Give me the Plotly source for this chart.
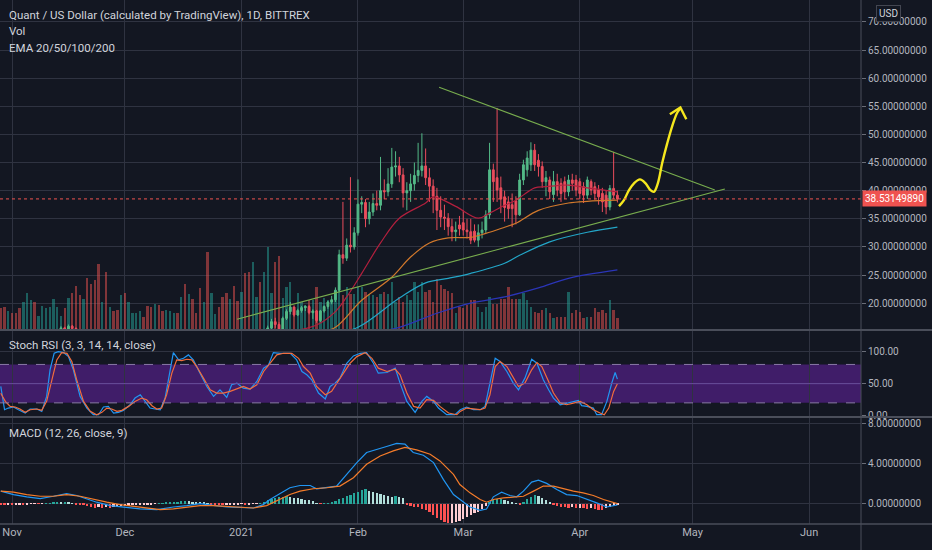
import pandas as pd
import plotly.graph_objects as go

# ---------------- DATA ----------------
start_date = "2020-10-29"
n_days = 165
dates = pd.date_range(start_date, periods=n_days, freq="D")

opens = [
    # Oct 29 - Dec 31
    11.1, 10.8, 10.5, 10.7, 10.6, 10.3, 10.1, 10.5, 11.2, 11.8, 11.3, 11.5, 11.9, 12.2, 12.6, 13.3, 14.6, 15.6, 15.4, 15.9,
    15.5, 14.3, 13.6, 14.0, 13.2, 12.6, 12.3, 11.4, 11.8, 10.6, 10.9, 10.8, 10.7, 11.3, 10.9, 11.2, 11.4, 11.5, 11.7, 11.6,
    11.3, 10.9, 11.2, 10.9, 10.6, 10.8, 11.0, 11.1, 11.0, 11.6, 11.2, 11.5, 11.3, 11.1, 10.5, 10.9, 9.8, 10.3, 10.5, 10.3,
    10.0, 9.8, 10.3, 10.0,
    # Jan
    9.9, 11.0, 10.6, 10.3, 11.8, 12.4, 12.1, 13.8, 15.6, 16.7, 16.2, 15.4, 17.3, 18.5, 19.3, 17.9, 18.7, 19.2, 19.4, 18.3,
    18.6, 16.9, 18.6, 19.4, 20.2, 20.6, 22.3, 28.6, 28.0, 30.3, 30.0,
    # Feb
    32.5, 37.6, 37.9, 35.0, 36.2, 37.7, 37.4, 40.0, 39.8, 41.2, 44.2, 44.4, 42.8, 39.6, 40.0, 41.2, 42.7, 43.6, 44.4, 42.3,
    40.8, 39.0, 36.5, 35.3, 35.1, 33.6, 32.7, 33.9,
    # Mar
    34.3, 33.0, 32.7, 32.8, 31.2, 32.5, 33.0, 35.7, 43.7, 42.3, 40.5, 38.9, 38.0, 37.5, 38.2, 35.7, 41.9, 43.7, 44.6, 47.2,
    45.4, 44.3, 41.6, 41.9, 39.3, 41.6, 41.3, 41.6, 39.8, 41.9, 41.9,
    # Apr
    41.6, 40.7, 39.2, 41.6, 40.7, 40.1, 39.5, 39.2, 37.1, 40.4, 39.2,
]
highs = [
    11.4, 11.0, 10.9, 10.9, 10.8, 10.5, 10.7, 11.4, 12.0, 12.0, 11.7, 12.1, 12.4, 12.8, 13.5, 14.8, 15.9, 15.8, 16.2, 16.1,
    15.7, 14.6, 14.3, 14.2, 13.4, 12.9, 12.5, 12.0, 11.9, 11.1, 11.1, 11.0, 11.5, 11.6, 11.4, 11.6, 11.7, 11.9, 11.8, 11.8,
    11.4, 11.4, 11.3, 11.0, 11.0, 11.1, 11.3, 11.2, 11.8, 11.9, 11.7, 11.6, 11.4, 11.2, 11.1, 11.0, 10.5, 10.7, 10.6, 10.6,
    10.2, 10.5, 10.5, 10.3,
    11.2, 11.5, 11.0, 12.2, 12.6, 12.8, 14.2, 16.0, 17.2, 17.4, 16.6, 17.6, 18.9, 20.2, 19.6, 19.0, 19.5, 19.6, 19.7, 18.9,
    18.8, 18.8, 19.6, 20.4, 21.3, 22.8, 29.5, 38.0, 31.5, 42.4, 33.5,
    42.0, 39.0, 38.5, 38.0, 39.5, 40.0, 46.0, 42.0, 44.0, 47.6, 47.0, 46.0, 44.0, 41.5, 43.0, 45.0, 48.5, 50.2, 47.5, 44.0,
    42.0, 40.5, 39.0, 37.5, 36.0, 35.0, 34.5, 35.5,
    36.5, 35.0, 35.0, 34.0, 34.0, 34.5, 36.5, 48.5, 44.8, 54.7, 42.5, 40.0, 39.0, 39.5, 39.0, 43.0, 45.5, 47.0, 48.6, 48.3,
    46.5, 45.2, 43.5, 42.5, 43.5, 43.0, 42.2, 42.5, 42.8, 43.0, 42.8,
    42.2, 41.5, 42.5, 42.0, 41.5, 41.0, 40.5, 40.0, 41.0, 46.9, 40.0,
]
lows = [
    10.6, 10.3, 10.3, 10.4, 10.1, 9.9, 10.0, 10.4, 11.0, 11.1, 11.2, 11.3, 11.7, 12.0, 12.4, 13.1, 14.4, 15.0, 15.1, 15.2,
    14.0, 13.3, 13.4, 13.0, 12.4, 12.1, 11.0, 11.2, 10.2, 10.4, 10.6, 10.5, 10.6, 10.7, 10.8, 11.0, 11.2, 11.3, 11.4, 11.1,
    10.7, 10.8, 10.7, 10.4, 10.5, 10.7, 10.9, 10.8, 10.9, 11.0, 11.1, 11.1, 11.0, 10.3, 10.4, 9.5, 9.7, 10.2, 10.1, 9.8,
    9.6, 9.7, 9.8, 9.7,
    9.8, 10.4, 10.0, 10.2, 11.5, 11.8, 12.0, 13.5, 15.2, 15.6, 14.6, 15.2, 17.0, 18.0, 17.6, 17.7, 18.3, 18.6, 18.0, 17.2,
    16.5, 16.6, 18.3, 19.0, 19.8, 20.2, 22.0, 27.0, 27.5, 29.0, 29.5,
    32.0, 36.0, 33.5, 34.0, 35.5, 36.5, 36.5, 38.5, 39.0, 40.5, 42.5, 41.5, 37.0, 36.5, 38.0, 40.0, 41.5, 42.5, 41.0, 38.0,
    36.0, 33.0, 33.5, 33.0, 32.0, 31.0, 31.0, 32.0,
    32.0, 31.5, 30.5, 30.8, 30.0, 31.5, 32.5, 35.0, 38.0, 38.0, 36.0, 34.5, 35.0, 33.5, 34.0, 35.5, 41.0, 42.5, 43.5, 43.5,
    42.5, 40.5, 39.0, 38.5, 38.0, 39.0, 38.0, 38.5, 39.0, 40.0, 39.0,
    38.5, 37.8, 38.5, 39.2, 38.4, 37.5, 36.2, 35.8, 36.5, 38.5, 37.9,
]
closes = [
    10.8, 10.5, 10.7, 10.6, 10.3, 10.1, 10.5, 11.2, 11.8, 11.3, 11.5, 11.9, 12.2, 12.6, 13.3, 14.6, 15.6, 15.4, 15.9, 15.5,
    14.3, 13.6, 14.0, 13.2, 12.6, 12.3, 11.4, 11.8, 10.6, 10.9, 10.8, 10.7, 11.3, 10.9, 11.2, 11.4, 11.5, 11.7, 11.6, 11.3,
    10.9, 11.2, 10.9, 10.6, 10.8, 11.0, 11.1, 11.0, 11.6, 11.2, 11.5, 11.3, 11.1, 10.5, 10.9, 9.8, 10.3, 10.5, 10.3, 10.0,
    9.8, 10.3, 10.0, 9.9,
    11.0, 10.6, 10.3, 11.8, 12.4, 12.1, 13.8, 15.6, 16.7, 16.2, 15.4, 17.3, 18.5, 19.3, 17.9, 18.7, 19.2, 19.4, 18.3, 18.6,
    16.9, 18.6, 19.4, 20.2, 20.6, 22.3, 28.6, 28.0, 30.3, 30.0, 32.5,
    37.6, 37.9, 35.0, 36.2, 37.7, 37.4, 40.0, 39.8, 41.2, 44.2, 44.4, 42.8, 39.6, 40.0, 41.2, 42.7, 43.6, 44.4, 42.3, 40.8,
    39.0, 36.5, 35.3, 35.1, 33.6, 32.7, 33.0, 33.2,
    33.0, 32.7, 31.2, 31.2, 32.5, 33.0, 35.7, 43.7, 41.6, 40.1, 38.5, 37.0, 36.8, 36.8, 35.7, 41.9, 44.6, 45.8, 47.2, 44.6,
    44.3, 41.6, 42.3, 39.8, 41.6, 40.1, 39.5, 39.8, 41.9, 41.3, 40.1,
    39.5, 39.2, 41.9, 40.1, 39.5, 38.9, 38.0, 37.1, 40.4, 39.2, 38.53149890,
]
volume = [
    21, 22, 18, 16, 16, 21, 27, 36, 29, 27, 13, 23, 21, 22, 30, 22, 13, 21, 31, 36,
    43, 34, 30, 51, 45, 49, 65, 27, 57, 22, 18, 19, 34, 36, 27, 16, 16, 18, 12, 23,
    22, 25, 24, 18, 19, 18, 16, 16, 32, 45, 35, 30, 16, 41, 27, 77, 36, 15, 22, 32,
    36, 30, 43, 28,
    37, 56, 57, 67, 32, 47, 57, 82, 36, 67, 73, 31, 42, 47, 22, 36, 27, 24, 29, 29,
    42, 27, 31, 29, 27, 37, 44, 34, 42, 35, 35, 42, 42, 37, 35, 34, 32, 35, 37, 35,
    47, 27, 32, 27, 34, 29, 47, 37, 47, 37, 39, 27, 50,
    44, 40, 38, 36, 16, 22, 21, 24, 29, 29, 22, 17, 22, 32, 25, 25, 30, 30, 42, 30,
    30, 30, 36, 29, 22, 17, 16, 19, 21, 16, 11, 12, 12, 12, 37, 16, 19, 17, 11, 12,
    12, 21, 17, 19, 16, 29, 19, 11,
]
last_price = 38.53149890

# EMA readings (sampled dates)
ema20_dates = ["2021-01-16", "2021-01-21", "2021-01-26", "2021-01-29", "2021-02-02", "2021-02-07", "2021-02-12",
               "2021-02-19", "2021-02-21", "2021-02-27", "2021-03-05", "2021-03-08", "2021-03-12", "2021-03-15",
               "2021-03-20", "2021-03-23", "2021-03-29", "2021-04-03", "2021-04-11"]
ema20 = [15.2, 16.1, 18.5, 21.1, 25.3, 30.7, 35.1, 37.8, 38.9, 37.2, 35.1, 36.0, 37.4, 38.3, 40.5, 40.7, 41.0, 40.5, 39.8]
ema50_dates = ["2021-01-22", "2021-01-26", "2021-02-02", "2021-02-10", "2021-02-15", "2021-02-20", "2021-02-25",
               "2021-03-03", "2021-03-07", "2021-03-12", "2021-03-15", "2021-03-21", "2021-03-29", "2021-04-03",
               "2021-04-11"]
ema50 = [14.8, 15.7, 20.5, 24.6, 28.2, 30.7, 31.6, 31.7, 32.4, 33.5, 34.2, 36.5, 37.8, 38.1, 38.3]
ema100_dates = ["2021-01-25", "2021-02-01", "2021-02-12", "2021-02-19", "2021-02-25", "2021-03-03", "2021-03-12",
                "2021-03-16", "2021-03-24", "2021-04-03", "2021-04-11"]
ema100 = [14.5, 15.7, 20.9, 23.6, 24.4, 25.3, 27.1, 28.5, 30.9, 32.6, 33.5]
ema200_dates = ["2021-02-05", "2021-02-12", "2021-02-22", "2021-03-03", "2021-03-12", "2021-03-21", "2021-03-29",
                "2021-04-11"]
ema200 = [14.8, 15.7, 18.2, 20.0, 21.1, 22.7, 24.4, 25.9]

# Drawn trend lines and projection arrow
tl_lower_x = ["2020-12-30 20:00", "2021-05-09 14:00"]
tl_lower_y = [17.15, 40.3]
tl_upper_x = ["2021-02-22 14:00", "2021-05-06 22:00"]
tl_upper_y = [58.4, 40.1]
arrow_x = ["2021-04-11 10:00", "2021-04-12 18:00", "2021-04-14 02:00", "2021-04-15 10:00", "2021-04-17 00:00",
           "2021-04-18 12:00", "2021-04-19 19:00", "2021-04-20 17:00", "2021-04-21 18:00", "2021-04-22 22:00",
           "2021-04-24 06:00", "2021-04-25 13:00", "2021-04-26 21:00", "2021-04-27 18:00"]
arrow_y = [37.26, 38.33, 40.1, 41.3, 42.0, 41.3, 40.1, 39.8, 41.3, 44.9, 48.4, 51.4, 53.8, 54.6]
arrowhead_x = ["2021-04-24 23:00", "2021-04-27 18:00", "2021-04-29 08:00"]
arrowhead_y = [53.6, 54.8, 52.7]

# Stoch RSI readings (day offset from start_date, value)
stoch_k_day = [0, 1, 2, 3.4, 4.7, 6.5, 7.8, 9.6, 10.9, 12.2, 13.1, 14.2, 15.3, 16.7, 18, 19.3, 21.1, 22.9, 24.6, 26,
               27.3, 28.6, 30, 31.3, 32.6, 34.4, 35.7, 37.1, 38.4, 39.7, 41, 42.4, 43.7, 45, 45.9, 47.3, 48.6, 49.9,
               51.2, 53, 54.8, 56.6, 58.3, 60.1, 61.4, 62.8, 64.5, 66.3, 68.1, 69.9, 71.2, 72.5, 74.3, 77, 78.7, 80.1,
               81.4, 82.7, 84.5, 86.3, 87.6, 88.9, 90.2, 92, 93.8, 95.6, 97.3, 99.1, 100.4, 102.7, 104.9, 106.2, 108,
               110.2, 112, 113.3, 115.1, 116.4, 118.6, 120.8, 122.2, 123.9, 125.7, 127.5, 128.8, 130.1, 131.5, 132.8,
               134.6, 136.3, 137.7, 139.4, 141.2, 142.6, 144.3, 145.7, 147, 148.8, 150.5, 152.3, 153.6, 154.5, 155.9,
               157.6, 158.5, 159.8, 161.2, 162.5, 163.4, 164]
stoch_k = [45.6, 9.3, 11.9, 13.5, 9.3, 4.1, 10.4, 10.4, 6.7, 30.1, 71.6, 97.4, 100, 98.5, 92.2, 71.6, 30.1, 11.9, 1.5,
           1.5, 13.5, 14.5, 4.1, 5.2, 8.3, 17.1, 27.5, 32.7, 22.3, 11.9, 10.4, 9.3, 27.5, 66.4, 98.5, 87.1, 89.6, 94.9,
           87.1, 66.4, 45.6, 30.1, 40.4, 28.6, 48.3, 50.8, 43, 41.5, 53.4, 74.2, 79.3, 98.5, 97.4, 97.4, 87.1, 69,
           63.8, 56, 35.3, 26, 45.6, 50.8, 58.6, 81.9, 93.3, 97.4, 98.5, 81.9, 66.4, 67.4, 74.2, 50.8, 22.3, 5.2,
           22.3, 30.1, 22.3, 11.9, 1.5, 1.5, 9.3, 13.5, 9.3, 9.3, 14.5, 50.8, 89.6, 84.5, 69, 50.8, 40.4, 58.6, 88.1,
           81.9, 56, 40.4, 27.5, 17.1, 19.7, 22.3, 23.9, 15.6, 14.5, 11.9, 1.5, 1.5, 22.3, 50.8, 67.4, 57.1]
stoch_d_day = [0, 1.2, 2.5, 3.8, 5.1, 6.5, 7.8, 9.6, 10.9, 12.2, 13.6, 14.9, 16.2, 17.6, 18.9, 20.2, 22, 23.8, 25.5,
               26.9, 28.2, 29.5, 30.9, 32.2, 34, 35.7, 37.5, 38.8, 40.2, 41.5, 42.8, 44.1, 45.5, 46.8, 48.1, 49.5,
               50.8, 52.1, 53.9, 55.7, 57.4, 59.2, 61, 62.8, 64.5, 66.3, 68.1, 69.9, 71.6, 73.4, 75.2, 77.4, 79.2,
               80.5, 82.3, 84, 86.3, 88, 89.4, 91.1, 92.9, 94.7, 96.9, 98.7, 100.4, 102.7, 104.9, 106.2, 108, 109.8,
               111.5, 113.3, 115.1, 116.8, 119.1, 121.3, 122.2, 123.9, 125.7, 127.5, 128.8, 130.1, 131.5, 132.8,
               134.6, 136.3, 137.7, 139.4, 141.2, 142.6, 143.9, 145.7, 147, 148.8, 150.5, 152.3, 154.1, 155.9, 157.6,
               159.4, 160.5, 161.7, 163, 164]
stoch_d = [35, 22.3, 14.5, 13.5, 10.4, 5.2, 9.3, 10.4, 8.3, 22.3, 56, 87.1, 98.5, 97.4, 84.5, 56, 22.3, 6.7, 1.5, 5.2,
           11.9, 10.4, 6.7, 8.3, 14.5, 22.3, 27.5, 24.9, 15.6, 10.4, 11.9, 32.7, 66.4, 87.1, 86, 88.1, 87.1, 76.7,
           58.6, 40.4, 35.3, 35.3, 37.9, 41.5, 45.6, 41.5, 48.3, 69, 81.9, 94.9, 97.4, 97.4, 89.6, 76.7, 66.4, 45.6,
           32.7, 37.9, 50.8, 66.4, 81.9, 92.2, 98.5, 89.6, 74.2, 69, 72.6, 63.8, 35.3, 14.5, 11.9, 24.9, 23.9, 14.5,
           4.1, 1.5, 6.7, 11.9, 10.4, 9.3, 11.9, 32.7, 76.7, 84.5, 76.7, 58.6, 45.6, 50.8, 71.6, 83, 76.7, 53.4,
           35.3, 19.7, 17.1, 19.7, 22.3, 17.1, 9.3, 4.1, 1.5, 11.9, 37.9, 50]

# MACD readings
macd_day = [0, 3.4, 6.9, 10.5, 14, 17.5, 20.2, 22.9, 25.5, 29.1, 32.6, 37, 41.5, 45.9, 49.5, 53, 56.5, 60.1, 63.6,
            67.2, 69.8, 71.6, 74.3, 76.9, 79.6, 82.3, 84, 86.7, 89.3, 92, 94.7, 97.3, 100, 102.6, 105.3, 107.5, 109.7,
            112.4, 115.1, 117.7, 120.4, 122.1, 124.8, 127.5, 129.2, 131, 133.2, 135.4, 137.2, 139, 141.2, 143, 145.2,
            147.9, 150.5, 153.2, 155.8, 158.5, 161.2, 162.9, 164]
macd_line = [1.25, 0.91, 0.68, 0.51, 0.74, 1.01, 0.81, 0.47, 0.14, -0.2, -0.37, -0.54, -0.61, -0.34, -0.2, 0, -0.17,
             -0.34, -0.37, -0.44, -0.1, 0.41, 1.01, 1.59, 1.82, 1.82, 1.49, 1.59, 1.76, 2.94, 4.12, 5.13, 5.47, 5.74,
             6.04, 5.97, 5.13, 4.86, 4.12, 2.43, 0.91, 0.41, -0.34, -0.67, -0.54, 0.68, 1.15, 0.81, 0.68, 1.25, 2.16,
             2.36, 2.03, 1.42, 0.91, 0.81, 0.47, 0.07, -0.34, -0.2, -0.13]
signal_day = [0, 3.4, 6.9, 10.5, 14, 17.5, 21.1, 24.6, 28.2, 31.7, 35.3, 38.8, 42.4, 45.9, 49.5, 53, 56.5, 60.1,
              63.6, 67.2, 70.7, 74.3, 76.9, 79.6, 83.1, 86.7, 90.2, 93.8, 97.3, 100.9, 104.4, 107.5, 110.6, 114.2,
              116.8, 120.4, 122.1, 124.8, 127.5, 129.2, 131, 133.7, 136.3, 139, 141.7, 144.3, 147, 149.6, 152.3,
              154.9, 157.6, 160.3, 162.9, 164]
signal_line = [1.25, 1.15, 0.91, 0.74, 0.74, 0.91, 0.74, 0.41, 0.14, -0.1, -0.27, -0.44, -0.61, -0.54, -0.34, -0.2,
               -0.2, -0.27, -0.34, -0.44, -0.2, 0.41, 0.91, 1.25, 1.49, 1.59, 1.76, 2.6, 3.95, 4.79, 5.3, 5.64, 5.4,
               4.96, 4.29, 2.94, 1.92, 1.08, 0.41, 0.14, 0.41, 0.57, 0.68, 0.74, 1.25, 1.76, 1.76, 1.49, 1.25, 1.08,
               0.81, 0.41, 0.14, 0.0]
macd_hist = [
    -0.05, -0.08, -0.06, -0.1, -0.08, -0.05, -0.07, -0.05, -0.04, -0.02, -0.03, -0.02,
    0.03, 0.05, 0.08, 0.1, 0.08, 0.12, 0.07, 0.04,
    -0.05, -0.1, -0.15, -0.25,
    -0.35, -0.4, -0.35, -0.42, -0.38, -0.4, -0.35, -0.3,
    -0.28, -0.25, -0.2, -0.18, -0.15, -0.12, -0.1, -0.08,
    -0.05, -0.03, 0.02, 0.05, 0.1,
    0.15, 0.18, 0.2, 0.25, 0.28, 0.25, 0.2, 0.15, 0.12, 0.08, 0.05,
    -0.05, -0.08, -0.1, -0.12, -0.1, -0.08, -0.06, -0.05, -0.04, -0.08, -0.06, -0.04, -0.02,
    0.05, 0.2, 0.35, 0.45, 0.55, 0.62, 0.7, 0.72,
    0.68, 0.6, 0.55, 0.48, 0.4, 0.35, 0.3,
    0.05, -0.03, 0.04, 0.06, 0.1,
    0.3, 0.45, 0.6, 0.75, 0.9, 1.05, 1.2, 1.35, 1.5,
    1.3, 1.15, 1.05, 0.95, 0.85, 0.75, 0.7, 0.75, 0.7, 0.55,
    -0.05, -0.2, -0.3, -0.35,
    -0.5, -0.6, -0.8,
    -1.1, -1.4, -1.6, -1.8, -1.95, -1.95,
    -1.85, -1.7, -1.5, -1.3, -1.1, -0.95, -0.8,
    -0.5, -0.2,
    0.2, 0.35, 0.45, 0.5, 0.4,
    0.25, 0.15, 0.05,
    -0.05,
    0.2, 0.45, 0.7, 0.85,
    0.75, 0.55, 0.35, 0.15,
    -0.1, -0.2, -0.3, -0.35, -0.4, -0.38, -0.42, -0.4, -0.45, -0.5, -0.48, -0.55, -0.6, -0.68,
    -0.45, -0.3, -0.2, -0.15,
]

month_ticks = ["2020-11-01", "2020-12-01", "2021-01-01", "2021-02-01", "2021-03-01", "2021-04-01",
               "2021-05-01", "2021-06-01"]
month_labels = ["Nov", "Dec", "2021", "Feb", "Mar", "Apr", "May", "Jun"]
price_ticks = [20, 25, 30, 35, 40, 45, 50, 55, 60, 65, 70]
stoch_ticks = [0, 50, 100]
macd_ticks = [0, 4, 8]

# ---------------- STYLE ----------------
BG = "#131722"
GRID = "#2f3341"
TXT = "#b2b5be"
UP = "#53b987"
DOWN = "#eb4d5c"
FONT = "Roboto, Open Sans, sans-serif"
PLOT_H = 524.0


def py(pix):
    return (PLOT_H - pix) / PLOT_H


def day_to_date(days):
    base = pd.Timestamp(start_date)
    return [base + pd.Timedelta(days=float(d)) for d in days]


DAY_MS = 86400000

fig = go.Figure()

# Volume (base axis y, hidden, drawn underneath)
vol_colors = ["rgba(38,166,154,0.5)" if c >= o else "rgba(239,83,80,0.5)" for o, c in zip(opens, closes)]
fig.add_trace(go.Bar(x=dates, y=volume, marker=dict(color=vol_colors, line=dict(width=0)),
                     width=0.62 * DAY_MS, xaxis="x", yaxis="y", showlegend=False, hoverinfo="skip"))

# Candles
fig.add_trace(go.Candlestick(
    x=dates, open=opens, high=highs, low=lows, close=closes, xaxis="x", yaxis="y4",
    increasing=dict(line=dict(color=UP, width=1), fillcolor=UP),
    decreasing=dict(line=dict(color=DOWN, width=1), fillcolor=DOWN),
    whiskerwidth=0, showlegend=False, hoverinfo="skip"))

# EMAs
for xs, ys, col in [(ema200_dates, ema200, "#2b35b8"), (ema100_dates, ema100, "#23a6c8"),
                    (ema50_dates, ema50, "#d2792c"), (ema20_dates, ema20, "#b3203e")]:
    fig.add_trace(go.Scatter(x=xs, y=ys, mode="lines", line=dict(color=col, width=1.2, shape="spline"),
                             xaxis="x", yaxis="y4", showlegend=False, hoverinfo="skip"))

# Trend lines
for xs, ys in [(tl_lower_x, tl_lower_y), (tl_upper_x, tl_upper_y)]:
    fig.add_trace(go.Scatter(x=xs, y=ys, mode="lines", line=dict(color="#78ad4e", width=1.1),
                             xaxis="x", yaxis="y4", showlegend=False, hoverinfo="skip"))

# Yellow projection arrow
fig.add_trace(go.Scatter(x=arrow_x, y=arrow_y, mode="lines", line=dict(color="#f5e71e", width=2.4, shape="spline"),
                         xaxis="x", yaxis="y4", showlegend=False, hoverinfo="skip"))
fig.add_trace(go.Scatter(x=arrowhead_x, y=arrowhead_y, mode="lines", line=dict(color="#f5e71e", width=2.4),
                         xaxis="x", yaxis="y4", showlegend=False, hoverinfo="skip"))

# Stoch RSI
fig.add_trace(go.Scatter(x=day_to_date(stoch_k_day), y=stoch_k, mode="lines", line=dict(color="#2196f3", width=1.2),
                         xaxis="x2", yaxis="y2", showlegend=False, hoverinfo="skip"))
fig.add_trace(go.Scatter(x=day_to_date(stoch_d_day), y=stoch_d, mode="lines", line=dict(color="#f26d3d", width=1.2),
                         xaxis="x2", yaxis="y2", showlegend=False, hoverinfo="skip"))

# MACD histogram colours (TradingView rule)
hist_colors = []
prev = 0.0
for h in macd_hist:
    if h >= 0:
        hist_colors.append("#26a69a" if h > prev else "#b2dfdb")
    else:
        hist_colors.append("#ff5252" if h < prev else "#ffcdd2")
    prev = h
fig.add_trace(go.Bar(x=dates, y=macd_hist, marker=dict(color=hist_colors, line=dict(width=0)),
                     width=0.6 * DAY_MS, xaxis="x3", yaxis="y3", showlegend=False, hoverinfo="skip"))
fig.add_trace(go.Scatter(x=day_to_date(macd_day), y=macd_line, mode="lines", line=dict(color="#2196f3", width=1.2),
                         xaxis="x3", yaxis="y3", showlegend=False, hoverinfo="skip"))
fig.add_trace(go.Scatter(x=day_to_date(signal_day), y=signal_line, mode="lines",
                         line=dict(color="#f57c2a", width=1.2),
                         xaxis="x3", yaxis="y3", showlegend=False, hoverinfo="skip"))

x_range = ["2020-10-28 19:00", "2021-06-14 19:00"]
xcommon = dict(range=x_range, type="date", tickvals=month_ticks, ticktext=month_labels, showgrid=True,
               gridcolor=GRID, gridwidth=1, zeroline=False, showline=False, ticks="")

main_lo, main_hi = 15.4, 73.9
fig.update_layout(
    width=932, height=550,
    margin=dict(l=0, r=71, t=0, b=26),
    paper_bgcolor=BG, plot_bgcolor=BG,
    font=dict(family=FONT, color=TXT, size=11),
    showlegend=False, hovermode=False, bargap=0,
    xaxis=dict(domain=[0, 1], anchor="y", showticklabels=False, rangeslider=dict(visible=False), **xcommon),
    xaxis2=dict(domain=[0, 1], anchor="y2", matches="x", showticklabels=False, **xcommon),
    xaxis3=dict(domain=[0, 1], anchor="y3", matches="x", showticklabels=True,
                tickfont=dict(size=11, color=TXT), **xcommon),
    yaxis=dict(domain=[py(329), 1], range=[0, 329], visible=False, showgrid=False, fixedrange=True),
    yaxis4=dict(overlaying="y", anchor="x", side="right", range=[main_lo, main_hi], tickvals=price_ticks,
                ticktext=["%.8f" % v for v in price_ticks], showgrid=True, gridcolor=GRID, zeroline=False,
                ticks="outside", ticklen=4, tickcolor="#6a6d78", tickfont=dict(size=10, color=TXT),
                showline=False),
    yaxis2=dict(domain=[py(416), py(331)], anchor="x2", side="right", range=[-0.5, 132.2], tickvals=stoch_ticks,
                ticktext=["%.2f" % v for v in stoch_ticks], showgrid=True, gridcolor=GRID, zeroline=False,
                ticks="outside", ticklen=4, tickcolor="#6a6d78", tickfont=dict(size=10, color=TXT)),
    yaxis3=dict(domain=[0, py(418)], anchor="x3", side="right", range=[-2.05, 8.6], tickvals=macd_ticks,
                ticktext=["%.8f" % v for v in macd_ticks], showgrid=True, gridcolor=GRID, zeroline=False,
                ticks="outside", ticklen=4, tickcolor="#6a6d78", tickfont=dict(size=10, color=TXT)),
)

right_edge = 932.0 / 861.0
shapes = [
    # stoch band
    dict(type="rect", xref="paper", x0=0, x1=1, yref="y2", y0=20, y1=80, fillcolor="#401d69",
         line=dict(width=0), layer="below"),
    dict(type="line", xref="paper", x0=0, x1=1, yref="y2", y0=80, y1=80,
         line=dict(color="#8a7aa6", width=1, dash="dash")),
    dict(type="line", xref="paper", x0=0, x1=1, yref="y2", y0=20, y1=20,
         line=dict(color="#8a7aa6", width=1, dash="dash")),
    dict(type="line", xref="paper", x0=0, x1=1, yref="y2", y0=50, y1=50,
         line=dict(color="#6d4ca2", width=1)),
    # last price dotted line
    dict(type="line", xref="paper", x0=0, x1=1, yref="y4", y0=last_price, y1=last_price,
         line=dict(color="#ef5350", width=1, dash="dot")),
    # pane separators and axis frame
    dict(type="line", xref="paper", x0=0, x1=right_edge, yref="paper", y0=py(330), y1=py(330),
         line=dict(color="#4a4e5a", width=2)),
    dict(type="line", xref="paper", x0=0, x1=right_edge, yref="paper", y0=py(417), y1=py(417),
         line=dict(color="#4a4e5a", width=2)),
    dict(type="line", xref="paper", x0=0, x1=right_edge, yref="paper", y0=0, y1=0,
         line=dict(color="#4a4e5a", width=1.5)),
    dict(type="line", xref="paper", x0=1, x1=1, yref="paper", y0=-0.05, y1=1,
         line=dict(color="#4a4e5a", width=1)),
]
fig.update_layout(shapes=shapes)

annos = [
    dict(text="Quant / US Dollar (calculated by TradingView), 1D, BITTREX", x=7 / 861, y=py(15)),
    dict(text="Vol", x=7 / 861, y=py(31)),
    dict(text="EMA 20/50/100/200", x=7 / 861, y=py(48)),
    dict(text="Stoch RSI (3, 3, 14, 14, close)", x=7 / 861, y=py(345)),
    dict(text="MACD (12, 26, close, 9)", x=7 / 861, y=py(433)),
]
ann_list = []
for a in annos:
    ann_list.append(dict(text=a["text"], xref="paper", yref="paper", x=a["x"], y=a["y"], xanchor="left",
                         yanchor="middle", showarrow=False, font=dict(size=11.5, color="#d1d4dc", family=FONT)))
ann_list.append(dict(text="USD", xref="paper", yref="paper", x=888 / 861, y=py(13), xanchor="center",
                     yanchor="middle", showarrow=False, font=dict(size=10, color="#d1d4dc", family=FONT),
                     bordercolor="#434651", borderwidth=1, borderpad=2, bgcolor=BG))
ann_list.append(dict(text="%.8f" % last_price, xref="paper", yref="y4", x=1, y=last_price, xanchor="left",
                     xshift=1, yanchor="middle", showarrow=False, font=dict(size=10, color="#ffffff", family=FONT),
                     bgcolor="#ef5350", borderpad=2))
fig.update_layout(annotations=ann_list)

fig.write_html("out.html", config={"displayModeBar": False},
               post_script="document.body.style.margin='0px';document.body.style.padding='0px';"
                           "document.body.style.overflow='hidden';")
